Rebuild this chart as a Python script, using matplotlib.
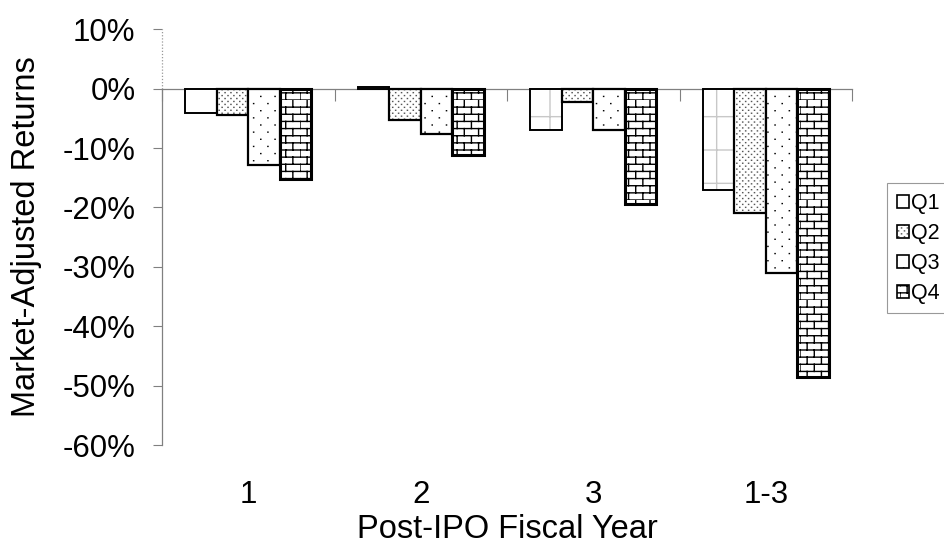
import warnings
import numpy as np
import matplotlib
matplotlib.use("Agg")
import matplotlib.pyplot as plt
import matplotlib.colors as mcolors
import matplotlib.transforms as mtransforms
from matplotlib import hatch as mhatch
from matplotlib.path import Path
from matplotlib.ticker import FuncFormatter, FixedLocator

warnings.filterwarnings("ignore")

# ---------------- data ----------------
categories = ["1", "2", "3", "1-3"]
series_names = ["Q1", "Q2", "Q3", "Q4"]
q1 = [-4.1, 0.3, -6.9, -17.0]
q2 = [-4.4, -5.3, -2.2, -20.9]
q3 = [-12.8, -7.7, -7.0, -31.0]
q4 = [-15.2, -11.1, -19.4, -48.5]
yticks = [10, 0, -10, -20, -30, -40, -50, -60]
xlabel = "Post-IPO Fiscal Year"
ylabel = "Market-Adjusted Returns"


# ---------------- custom hatches ----------------
def _seg(vertices, codes, k, p0, p1):
    vertices[k] = p0
    vertices[k + 1] = p1
    codes[k] = Path.MOVETO
    codes[k + 1] = Path.LINETO
    return k + 2


class BrickHatch(mhatch.HatchPatternBase):
    """'b' : brick wall pattern"""
    def __init__(self, hatch, density):
        n = hatch.count('b')
        self.rows = 14 * n
        self.cols = 7 * n
        self.num_vertices = (self.rows * 2 + self.rows * self.cols * 2) if n else 0

    def set_vertices_and_codes(self, vertices, codes):
        k = 0
        for i in range(self.rows):
            y0 = i / self.rows
            y1 = (i + 1) / self.rows
            k = _seg(vertices, codes, k, (0.0, y0), (1.0, y0))
            off = 0.5 if i % 2 else 0.0
            for j in range(self.cols):
                xx = (j + off) / self.cols
                k = _seg(vertices, codes, k, (xx, y0), (xx, y1))


class GridHatch(mhatch.HatchPatternBase):
    """'g' : sparse grid"""
    def __init__(self, hatch, density):
        n = hatch.count('g')
        self.rows = 3 * n
        self.cols = 3 * n
        self.num_vertices = (self.rows + self.cols) * 2 if n else 0

    def set_vertices_and_codes(self, vertices, codes):
        k = 0
        for i in range(self.rows):
            y0 = (i + 0.5) / self.rows
            k = _seg(vertices, codes, k, (0.0, y0), (1.0, y0))
        for j in range(self.cols):
            xx = (j + 0.5) / self.cols
            k = _seg(vertices, codes, k, (xx, 0.0), (xx, 1.0))


class DotHatch(mhatch.HatchPatternBase):
    """'d' : sparse staggered dots, 'e' : dense stipple"""
    def __init__(self, hatch, density):
        nd = hatch.count('d')
        ne = hatch.count('e')
        if nd:
            self.rows, self.cols = 14 * nd, 7 * nd
        elif ne:
            self.rows, self.cols = 34 * ne, 17 * ne
        else:
            self.rows, self.cols = 0, 0
        self.num_vertices = self.rows * self.cols * 2

    def set_vertices_and_codes(self, vertices, codes):
        k = 0
        eps = 0.0015
        for i in range(self.rows):
            yy = (i + 0.5) / self.rows
            off = 0.5 if i % 2 else 0.0
            for j in range(self.cols):
                xx = (j + 0.25 + off) / self.cols
                k = _seg(vertices, codes, k, (xx, yy), (xx + eps, yy))


mhatch._hatch_types.extend([BrickHatch, GridHatch, DotHatch])

plt.rcParams['font.family'] = ['Liberation Sans', 'DejaVu Sans']
plt.rcParams['hatch.linewidth'] = 1.0

fig = plt.figure(figsize=(9.44, 5.46), dpi=100)
ax = fig.add_axes([162 / 944, 1 - 445 / 546, 690 / 944, 415.7 / 546])

values = [q1, q2, q3, q4]
hatches = ['g', 'e', 'd', 'b']
edge_lw = [1.4, 1.6, 1.6, 2.2]
hatch_cols = ['#c8c8c8', '#555555', '#000000', '#000000']
x = np.arange(len(categories))
bw = 0.1825
handles = []
for k, (vals, name, h, lw) in enumerate(zip(values, series_names, hatches, edge_lw)):
    bars = ax.bar(x + (k - 1.5) * bw, vals, width=bw, color='white',
                  edgecolor='black', linewidth=lw, hatch=h, label=name, zorder=3)
    for p in bars:
        p._hatch_color = mcolors.to_rgba(hatch_cols[k])
    handles.append(bars)

ax.set_xlim(-0.5, len(categories) - 0.5)
ax.set_ylim(min(yticks), max(yticks))
ax.set_yticks(yticks)
ax.yaxis.set_major_formatter(FuncFormatter(lambda v, p: f"{v:.0f}%"))
ax.tick_params(axis='y', direction='out', length=6.5, width=0.8, color='#808080',
               labelsize=22.5, pad=12.5)

gray = '#808080'
for s in ['top', 'right']:
    ax.spines[s].set_visible(False)
ax.spines['left'].set_color(gray)
ax.spines['left'].set_linewidth(0.9)
ax.spines['left'].set_bounds(min(yticks), 0)
trans = mtransforms.blended_transform_factory(ax.transAxes, ax.transData)
ax.plot([0, 0], [0, max(yticks)], transform=trans, color='#999999', lw=0.9,
        ls=(0, (1, 1.5)), clip_on=False)

ax.spines['bottom'].set_position(('data', 0))
ax.spines['bottom'].set_color(gray)
ax.spines['bottom'].set_linewidth(0.9)
ax.spines['bottom'].set_zorder(2)
ax.xaxis.set_major_locator(FixedLocator(np.arange(len(categories) + 1) - 0.5))
ax.tick_params(axis='x', direction='out', length=8.5, width=0.8, color=gray,
               labelbottom=False)

sec = ax.secondary_xaxis(0.0)
sec.set_xticks(x, labels=categories)
sec.tick_params(length=0, labelsize=22.5, pad=25)
sec.spines['bottom'].set_visible(False)

ax.set_xlabel(xlabel, fontsize=23.5, va='center')
ax.xaxis.set_label_coords(0.5, (445 - 529) / 415.7)
ax.set_ylabel(ylabel, fontsize=23.5, va='center')
ax.yaxis.set_label_coords((27 - 162) / 690, (445 - 237) / 415.7)

leg = fig.legend(handles=handles, labels=series_names, loc='upper left',
                 bbox_to_anchor=(887 / 944, 1 - 183 / 546),
                 bbox_transform=fig.transFigure, borderaxespad=0,
                 fontsize=15.5, frameon=True, fancybox=False,
                 handlelength=0.55, handleheight=0.55, handletextpad=0.12,
                 borderpad=0.45, labelspacing=0.42)
leg.get_frame().set_edgecolor(gray)
leg.get_frame().set_linewidth(0.8)
for p in leg.get_patches():
    p.set_linewidth(1.2)

fig.savefig("out.png", dpi=100)
